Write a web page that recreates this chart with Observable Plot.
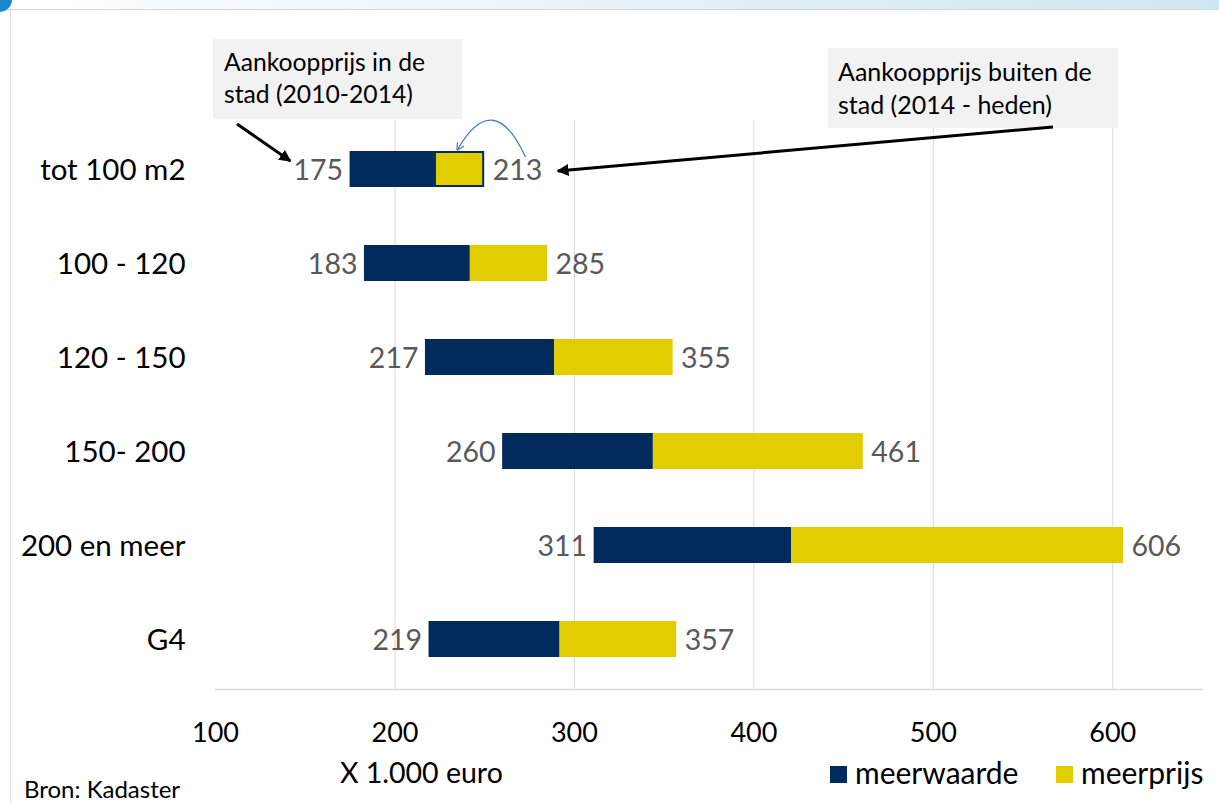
<!DOCTYPE html>
<html><head><meta charset="utf-8">
<script src="https://cdn.jsdelivr.net/npm/d3@7"></script>
<script src="https://cdn.jsdelivr.net/npm/@observablehq/plot@0.6"></script>
<style>
body{margin:0;background:#fff;}
#wrap{position:relative;width:1219px;height:803px;overflow:hidden;font-family:Lato,sans-serif;background:#fff;}
.topband{position:absolute;left:0;top:0;width:1219px;height:9px;background:linear-gradient(90deg,#ffffff 0%,#eef6fb 35%,#cfe7f2 100%);border-bottom:1px solid #d6d6d6;}
.leftline{position:absolute;left:10px;top:10px;width:1px;height:793px;background:#dcdcdc;}
.dot{position:absolute;left:-13px;top:-13px;width:25px;height:25px;border-radius:50%;background:#1a86cc;}
#chart{position:absolute;left:0;top:0;}
</style></head><body>
<div id="wrap"><div class="topband"></div><div class="leftline"></div><div class="dot"></div><div id="chart"></div></div>
<script>
// categories (woonoppervlak)
const categories = ["tot 100 m2", "100 - 120", "120 - 150", "150- 200", "200 en meer", "G4"];
// aankoopprijs in de stad (bar start), x 1.000 euro
const aankoopStad = [175, 183, 217, 260, 311, 219];
// series values
const meerwaarde = [47, 59, 72, 84, 110, 73];
const meerprijs = [28, 43, 66, 117, 185, 65];
// value labels as printed in the chart
const labelStart = ["175", "183", "217", "260", "311", "219"];
const labelEnd = ["213", "285", "355", "461", "606", "357"];
// x ticks
const xTicks = [100, 200, 300, 400, 500, 600];
const gridTicks = [200, 300, 400, 500, 600];
const seriesNames = ["meerwaarde", "meerprijs"];
const annotationStad = ["Aankoopprijs in de", "stad (2010-2014)"];
const annotationBuiten = ["Aankoopprijs buiten de", "stad (2014 - heden)"];
const axisTitle = "X 1.000 euro";
const source = "Bron: Kadaster";

const navy = "#002b5c";
const yellow = "#e1cd00";
const font = "Lato, sans-serif";

const data = categories.map((c, i) => ({
  cat: c,
  start: aankoopStad[i],
  mid: aankoopStad[i] + meerwaarde[i],
  end: aankoopStad[i] + meerwaarde[i] + meerprijs[i],
  ls: labelStart[i],
  le: labelEnd[i]
}));

const plot = Plot.plot({
  width: 1219,
  height: 803,
  marginLeft: 215,
  marginRight: 17,
  marginTop: 120,
  marginBottom: 114,
  style: {fontFamily: font, background: "transparent", color: "#000", overflow: "visible"},
  x: {domain: [100, 650], label: null},
  y: {domain: categories, paddingInner: 0.62, paddingOuter: 0.3175, label: null},
  marks: [
    Plot.ruleX(gridTicks, {stroke: "#d9d9d9", strokeWidth: 1}),
    Plot.frame({anchor: "bottom", stroke: "#d9d9d9", strokeWidth: 1.5}),
    Plot.barX(data, {x1: "start", x2: "mid", y: "cat", fill: navy, insetTop: -1, insetBottom: 1}),
    Plot.barX(data.slice(1), {x1: "mid", x2: "end", y: "cat", fill: yellow, insetTop: -1, insetBottom: 1}),
    Plot.barX(data.slice(0, 1), {x1: "mid", x2: "end", y: "cat", fill: yellow, stroke: navy, strokeWidth: 2, insetLeft: 1, insetRight: 1, insetTop: 0, insetBottom: 2}),
    Plot.text(data, {x: "start", y: "cat", text: "ls", textAnchor: "end", dx: -7, fill: "#595959", fontSize: 28.5}),
    Plot.text(data, {x: "end", y: "cat", text: "le", textAnchor: "start", dx: 8, fill: "#595959", fontSize: 28.5}),
    Plot.axisX(xTicks, {tickSize: 0, tickPadding: 33, fontSize: 27, fill: "#000", label: null}),
    Plot.axisY({tickSize: 0, tickPadding: 30, fontSize: 29.5, fill: "#000", label: null})
  ]
});

document.getElementById("chart").appendChild(plot);

// annotations, legend, axis title
const svg = d3.select(plot);
const sx = plot.scale("x");
const sy = plot.scale("y");
const yc = sy.apply(categories[0]) + sy.bandwidth / 2;

const defs = svg.append("defs");
defs.append("marker").attr("id", "ahBlack").attr("viewBox", "0 0 10 10")
  .attr("refX", 9).attr("refY", 5).attr("markerWidth", 4).attr("markerHeight", 4)
  .attr("orient", "auto").append("path").attr("d", "M0,0 L10,5 L0,10 z").attr("fill", "#000");
defs.append("marker").attr("id", "ahBlue").attr("viewBox", "0 0 10 10")
  .attr("refX", 9).attr("refY", 5).attr("markerWidth", 8).attr("markerHeight", 8)
  .attr("markerUnits", "userSpaceOnUse")
  .attr("orient", "auto").append("path").attr("d", "M0,0 L10,5 L0,10").attr("fill", "none").attr("stroke", "#4a7ebb").attr("stroke-width", 1.5);

const g = svg.append("g").attr("font-family", font).attr("text-anchor", "start");

// box 1
g.append("rect").attr("x", sx.apply(100) - 2).attr("y", 39).attr("width", 249).attr("height", 80).attr("fill", "#f2f2f2");
annotationStad.forEach((t, i) => g.append("text").attr("x", sx.apply(100) + 9).attr("y", 71 + i * 32)
  .attr("font-size", 24.7).attr("fill", "#000").text(t));
// box 2
g.append("rect").attr("x", 828).attr("y", 48).attr("width", 290).attr("height", 80).attr("fill", "#f2f2f2");
annotationBuiten.forEach((t, i) => g.append("text").attr("x", 838).attr("y", 81 + i * 33)
  .attr("font-size", 25).attr("fill", "#000").text(t));

// arrows
g.append("line").attr("x1", 237).attr("y1", 124).attr("x2", sx.apply(142)).attr("y2", yc - 9)
  .attr("stroke", "#000").attr("stroke-width", 3).attr("marker-end", "url(#ahBlack)");
g.append("line").attr("x1", 1053).attr("y1", 127).attr("x2", sx.apply(291)).attr("y2", yc + 1)
  .attr("stroke", "#000").attr("stroke-width", 3).attr("marker-end", "url(#ahBlack)");
const bx0 = sx.apply(273), bx1 = sx.apply(235);
g.append("path").attr("d", `M${bx0},${yc - 13} Q${(bx0 + bx1) / 2 + 2},${yc - 83} ${bx1},${yc - 20}`)
  .attr("fill", "none").attr("stroke", "#4a7ebb").attr("stroke-width", 1.3).attr("marker-end", "url(#ahBlue)");

// axis title & source
g.append("text").attr("x", 340).attr("y", 783).attr("font-size", 28.5).attr("fill", "#000").text(axisTitle);
g.append("text").attr("x", 24).attr("y", 798).attr("font-size", 24).attr("fill", "#000").text(source);

// legend
const legendX = [830, 1056];
[navy, yellow].forEach((c, i) => {
  g.append("rect").attr("x", legendX[i]).attr("y", 766).attr("width", 17).attr("height", 17).attr("fill", c);
  g.append("text").attr("x", legendX[i] + 25).attr("y", 784).attr("font-size", 30).attr("fill", "#000").text(seriesNames[i]);
});
</script>
</body></html>
